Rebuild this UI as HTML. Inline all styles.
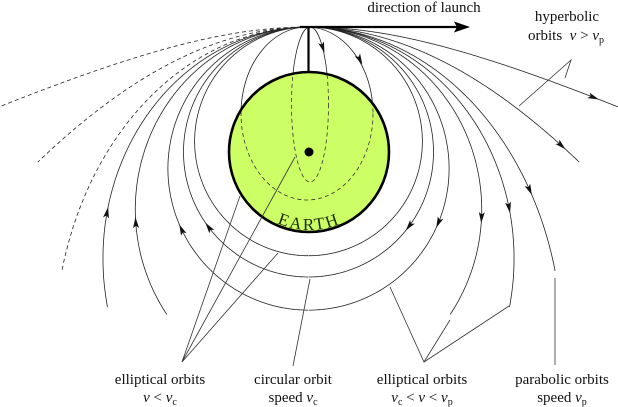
<!DOCTYPE html>
<html><head><meta charset="utf-8"><style>
html,body{margin:0;padding:0;background:#fff;}
svg{display:block;}
</style></head><body>
<svg id="s" width="618" height="407" viewBox="0 0 618 407" xmlns="http://www.w3.org/2000/svg">
<defs>
<clipPath id="ec"><circle cx="309" cy="152" r="79"/></clipPath>
</defs>
<g id="curves" fill="none" stroke="#222" stroke-width="0.8"></g>
<ellipse cx="310" cy="104.5" rx="18.5" ry="77.5" fill="none" stroke="#222" stroke-width="0.8"/>
<ellipse cx="307" cy="113.5" rx="66" ry="86.5" fill="none" stroke="#222" stroke-width="0.8"/>
<circle cx="309" cy="152" r="80" fill="#ccff66" stroke="#000" stroke-width="2.6"/>
<g clip-path="url(#ec)" fill="none" stroke="#333" stroke-width="0.8" stroke-dasharray="4,3">
<ellipse cx="310" cy="104.5" rx="18.5" ry="77.5"/>
<ellipse cx="307" cy="113.5" rx="66" ry="86.5"/>
</g>
<circle cx="309" cy="152" r="4.5" fill="#000"/>
<line x1="308.5" y1="27" x2="308.5" y2="72" stroke="#000" stroke-width="2.2"/>
<line x1="300" y1="27" x2="458" y2="27" stroke="#000" stroke-width="2.2"/>
<path d="M470,27 L454,21.5 L457,27 L454,32.5 Z" fill="#000"/>
<path id="ep" d="M231,152 A78,78 0 0 0 387,152" fill="none" stroke="none"/>
<text font-family="'Liberation Serif','DejaVu Serif',serif" font-size="17" letter-spacing="2" fill="#1a2a00"><textPath href="#ep" startOffset="50%" text-anchor="middle">EARTH</textPath></text>
<g id="arrows" fill="#111"></g>
<g stroke="#333" stroke-width="0.8" fill="none">
<polyline points="295,157 182,362 240,196"/>
<line x1="182" y1="362" x2="278" y2="253"/>
<line x1="293" y1="366" x2="310" y2="279"/>
<polyline points="390,287 424,362 450,320"/>
<line x1="424" y1="362" x2="509" y2="306"/>
<line x1="555" y1="278" x2="555" y2="365"/>
<polyline points="519,106 571,60 565,78"/>
</g>
<g font-family="'Liberation Serif','DejaVu Serif',serif" font-size="15" text-anchor="middle" fill="#111">
<text x="424" y="12">direction of launch</text>
<text x="567" y="21">hyperbolic</text>
<text x="566" y="40">orbits&#160; <tspan font-style="italic">v</tspan> &gt; <tspan font-style="italic">v</tspan><tspan font-size="10" dy="3">p</tspan></text>
<text x="160" y="384">elliptical orbits</text>
<text x="160" y="402"><tspan font-style="italic">v</tspan> &lt; <tspan font-style="italic">v</tspan><tspan font-size="10" dy="3">c</tspan></text>
<text x="293" y="384">circular orbit</text>
<text x="293" y="402">speed <tspan font-style="italic">v</tspan><tspan font-size="10" dy="3">c</tspan></text>
<text x="422" y="384">elliptical orbits</text>
<text x="422" y="402"><tspan font-style="italic">v</tspan><tspan font-size="10" dy="3">c</tspan><tspan dy="-3"> &lt; </tspan><tspan font-style="italic">v</tspan> &lt; <tspan font-style="italic">v</tspan><tspan font-size="10" dy="3">p</tspan></text>
<text x="562" y="384">parabolic orbits</text>
<text x="562" y="402">speed <tspan font-style="italic">v</tspan><tspan font-size="10" dy="3">p</tspan></text>
</g>
</svg>
<script>
(function(){
var FX=308.5,FY=152,R0=125,NS="http://www.w3.org/2000/svg";
var cg=document.getElementById('curves'),ag=document.getElementById('arrows');
function pt(e,p){var r=R0*(1+e)/(1+e*Math.cos(p));return [FX+r*Math.sin(p),FY-r*Math.cos(p)];}
function trace(e,dir,stop){var pts=[pt(e,0)],p=0;for(var i=0;i<2000;i++){p+=dir*0.004;if(Math.abs(p)>Math.PI)break;var q=pt(e,p);if(!(isFinite(q[0])&&isFinite(q[1])))break;if(stop(q)){pts.push(q);break;}pts.push(q);}return pts;}
function path(pts,dash){var d='M'+pts.map(function(q){return q[0].toFixed(1)+','+q[1].toFixed(1)}).join(' L');var el=document.createElementNS(NS,'path');el.setAttribute('d',d);if(dash)el.setAttribute('stroke-dasharray','4,3');cg.appendChild(el);}
function arrow(e,dir,ty){var p=0,prev=pt(e,0);for(var i=0;i<2000;i++){p+=dir*0.002;var q=pt(e,p);if(q[1]>=ty){var dx=q[0]-prev[0],dy=q[1]-prev[1];var L=Math.hypot(dx,dy);dx/=L;dy/=L;if(dir<0){dx=-dx;dy=-dy;}head(q[0],q[1],dx,dy);return;}prev=q;}}
function head(x,y,dx,dy){var l=8,w=3;var bx=x-dx*l,by=y-dy*l;var nx=-dy,ny=dx;var mx=x-dx*l*0.7,my=y-dy*l*0.7;var el=document.createElementNS(NS,'path');el.setAttribute('d','M'+(x+dx*3)+','+(y+dy*3)+' L'+(bx+nx*w)+','+(by+ny*w)+' L'+mx+','+my+' L'+(bx-nx*w)+','+(by-ny*w)+'Z');ag.appendChild(el);}
[-0.093,0,0.117].forEach(function(e){var a=trace(e,1,function(){return false;});var b=trace(e,-1,function(){return false;});path(b.reverse().concat(a));});
[[0.315,314],[0.46,306]].forEach(function(c){var e=c[0],y=c[1];var a=trace(e,1,function(q){return q[1]>y;});var b=trace(e,-1,function(q){return q[1]>y;});path(b.reverse().concat(a));});
[[0.61,function(q){return q[1]>270;}],[1.08,function(q){return q[1]>162;}],[2.35,function(q){return q[0]>620||q[0]<-2;}]].forEach(function(c){path(trace(c[0],1,c[1]));path(trace(c[0],-1,c[1]),true);});
arrow(0,1,228);arrow(0.117,1,225);arrow(0.315,1,220);arrow(0.46,1,210);arrow(0.61,1,192);arrow(1.08,1,147);arrow(2.35,1,98);
arrow(0,-1,225);arrow(0.117,-1,227);arrow(0.315,-1,220);arrow(0.46,-1,210);
head(323.5,50,0.3,0.95);head(361,62,0.45,0.89);
})();
</script>
</body></html>
